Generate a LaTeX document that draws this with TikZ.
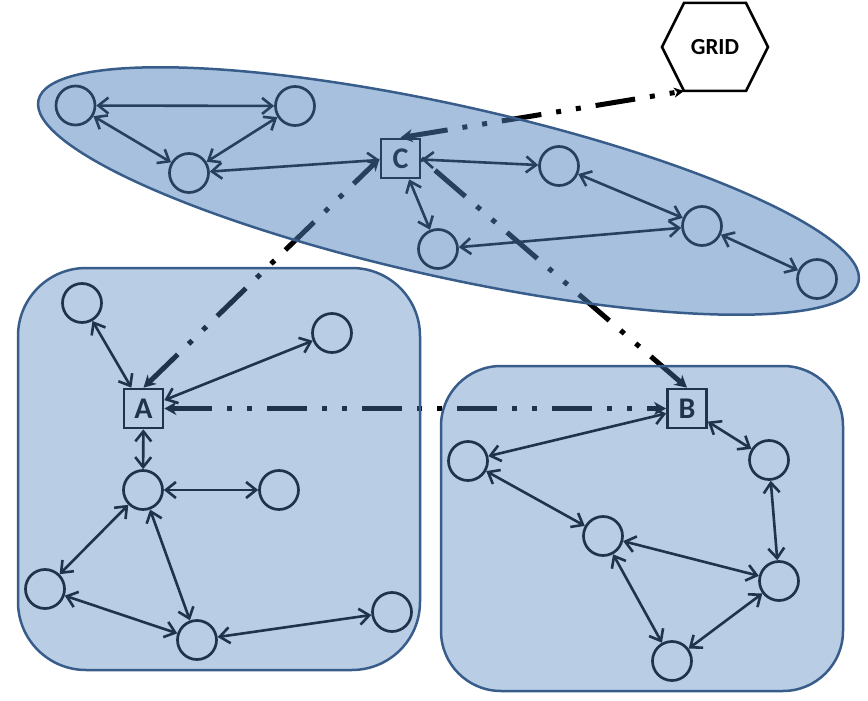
\documentclass[tikz,border=0pt]{standalone}
\usepackage{fontspec}
\setmainfont{Carlito}
\usetikzlibrary{arrows.meta}
\definecolor{cfill}{HTML}{4F81BD}
\definecolor{cline}{HTML}{385D8A}
\begin{document}
\begin{tikzpicture}[x=0.5pt,y=-0.5pt,
  circ/.style={circle, draw=black, line width=1.35pt, minimum size=19.5pt, inner sep=0pt},
  sq/.style={rectangle, draw=black, line width=1.35pt, minimum size=19.5pt, inner sep=0pt,
    font=\bfseries\fontsize{15}{15}\selectfont},
  link/.style={line width=1.3pt, black,
    arrows={Straight Barb[length=5pt,width=8pt]-Straight Barb[length=5pt,width=8pt]}},
  dashlink/.style={line width=2.5pt, black,
    dash pattern=on 20pt off 7.5pt on 2.5pt off 7.5pt on 2.5pt off 7.5pt},
  container/.style={fill=cfill, draw=cline, line width=1.25pt},
  hexline/.style={draw=black, line width=1.25pt, line join=miter}
]
\useasboundingbox (0,0) rectangle (868,701);

% ---- GRID hexagon
\coordinate (h1) at (684,3);
\coordinate (h2) at (746,3);
\coordinate (h3) at (768,47);
\coordinate (h4) at (746,91);
\coordinate (h5) at (684,91);
\coordinate (h6) at (662,47);
\draw[hexline] (h1) -- (h2) -- (h3) -- (h4) -- (h5) -- (h6) -- cycle;
\node[font=\bfseries\fontsize{11.5}{11.5}\selectfont] (grid) at (715,47) {GRID};

% ---- ellipse group nodes
\node[circ] (n1) at (75.5,105.5) {};
\node[circ] (n2) at (295,106) {};
\node[circ] (n3) at (189,173) {};
\node[sq]   (C)  at (400.5,158.5) {C};
\node[circ] (n4) at (559,166) {};
\node[circ] (n5) at (702,226) {};
\node[circ] (n6) at (438,249) {};
\node[circ] (n7) at (817,279) {};

% ---- box A nodes
\node[circ] (a1) at (82,303) {};
\node[circ] (a2) at (332,333) {};
\node[sq]   (A)  at (143.5,408.5) {A};
\node[circ] (a3) at (143,490) {};
\node[circ] (a4) at (279,490) {};
\node[circ] (a5) at (45,589) {};
\node[circ] (a6) at (197,640) {};
\node[circ] (a7) at (392,612) {};

% ---- box B nodes
\node[sq]   (B)  at (687,408.5) {B};
\node[circ] (b1) at (468,461) {};
\node[circ] (b2) at (769,460) {};
\node[circ] (b3) at (603,536) {};
\node[circ] (b4) at (779,581) {};
\node[circ] (b5) at (672,661) {};

% ---- solid links
\draw[link] (n1) -- (n2);
\draw[link] (n1) -- (n3);
\draw[link] (n2) -- (n3);
\draw[link] (n3) -- (C);
\draw[link] (C) -- (n4);
\draw[link] (C) -- (n6);
\draw[link] (n4) -- (n5);
\draw[link] (n6) -- (n5);
\draw[link] (n5) -- (n7);

\draw[link] (a1) -- (A);
\draw[link] (a2) -- (A);
\draw[link] (A) -- (a3);
\draw[link] (a3) -- (a4);
\draw[link] (a3) -- (a5);
\draw[link] (a3) -- (a6);
\draw[link] (a5) -- (a6);
\draw[link] (a6) -- (a7);

\draw[link] (B) -- (b1);
\draw[link] (B) -- (b2);
\draw[link] (b1) -- (b3);
\draw[link] (b3) -- (b4);
\draw[link] (b2) -- (b4);
\draw[link] (b3) -- (b5);
\draw[link] (b4) -- (b5);

% ---- dash-dot-dot links
\draw[dashlink, arrows={Stealth[length=6pt,width=6.5pt,inset=1.8pt]-Stealth[length=6pt,width=6.5pt,inset=1.8pt]}] (A.north) -- (C.west);
\draw[dashlink, arrows={Stealth[length=6pt,width=6.5pt,inset=1.8pt]-Stealth[length=6pt,width=6.5pt,inset=1.8pt]}] (A.east) -- (B.west);
\draw[dashlink, arrows={Stealth[length=6pt,width=6.5pt,inset=1.8pt]-}] (B.north) -- (C.east);
\draw[dashlink, arrows={Stealth[length=6pt,width=6.5pt,inset=1.8pt]-Stealth[length=5pt,width=5pt,inset=1.5pt]}] (C.north) -- (h5);

% ---- translucent containers on top
\path[container, fill opacity=0.5, rotate around={-12.5:(448.5,191)}]
  (448.5,191) ellipse [x radius=420, y radius=86];
\path[container, fill opacity=0.4, rounded corners=34pt] (18,268) rectangle (420,670);
\path[container, fill opacity=0.4, rounded corners=30pt] (441,366) rectangle (843,691);
\end{tikzpicture}
\end{document}
